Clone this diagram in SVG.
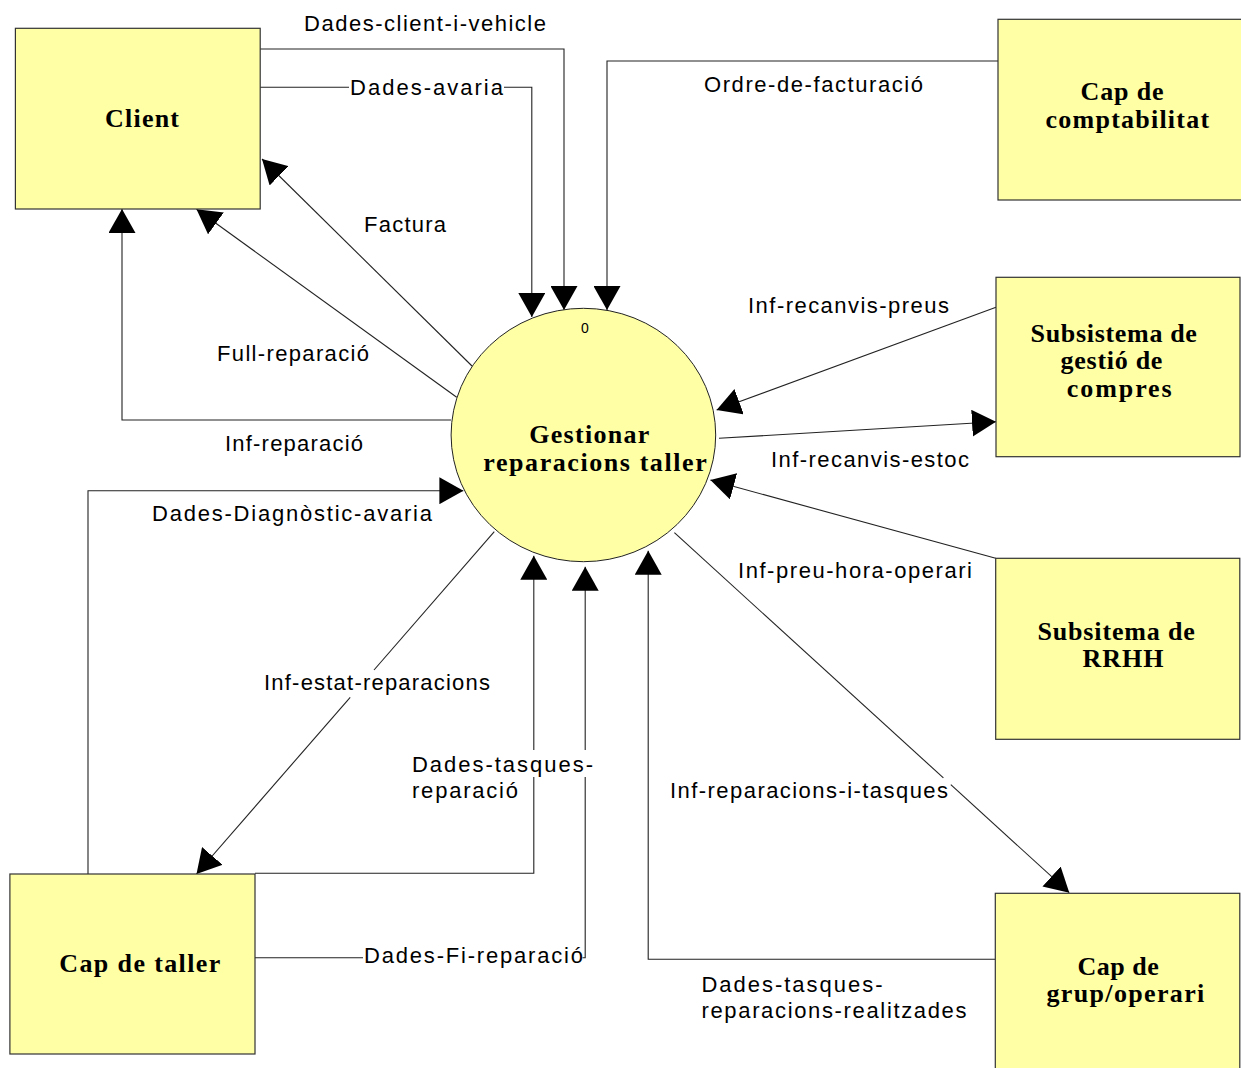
<svg xmlns="http://www.w3.org/2000/svg" width="1241" height="1068" viewBox="0 0 1241 1068">
<style>
.box{fill:#ffffa6;stroke:#333;stroke-width:1.2}
.proc{fill:#ffffa6;stroke:#222;stroke-width:1}
.nt{font-family:"Liberation Serif","Times New Roman",serif;font-weight:bold;font-size:26px;fill:#000}
.lb{font-family:"Liberation Sans",Arial,sans-serif;font-size:22px;fill:#000}
.num{font-family:"Liberation Sans",Arial,sans-serif;font-size:14px;fill:#000}
.c{fill:none;stroke:#222;stroke-width:1.1}
.ca{fill:none;stroke:#222;stroke-width:1.1;marker-end:url(#arr)}
</style>
<defs>
<marker id="arr" markerUnits="userSpaceOnUse" markerWidth="24" markerHeight="27" refX="24" refY="13.5" orient="auto" viewBox="0 0 24 27">
<path d="M0,0 L24,13.5 L0,27 z" fill="#000"/>
</marker>
</defs>
<rect width="1241" height="1068" fill="#fff"/>

<g id="connectors">
<path class="ca" d="M260,49 H564 V310"/>
<path class="c" d="M260,87.3 H349"/>
<path class="ca" d="M504,87.3 H531.8 V317"/>
<path class="ca" d="M998,61 H607 V310"/>
<path class="ca" d="M472,366 L262,159"/>
<path class="ca" d="M456.7,397.3 L196.5,209.3"/>
<path class="ca" d="M451,420 H122 V209"/>
<path class="ca" d="M996,307.3 L716.6,410"/>
<path class="ca" d="M719,438.3 L996,421.7"/>
<path class="ca" d="M995.7,558.3 L710.4,480"/>
<path class="ca" d="M88,874 V490.7 H463.4"/>
<path class="c" d="M494.3,531.7 L374,670"/>
<path class="ca" d="M350.2,697.3 L196.5,874"/>
<path class="c" d="M255,873.3 H533.8 V777"/>
<path class="ca" d="M533.8,750 V555.7"/>
<path class="c" d="M255,957.7 H363"/>
<path class="c" d="M582.5,957.7 H585.2 V777"/>
<path class="ca" d="M585.2,750 V566.7"/>
<path class="c" d="M674.4,532.7 L943.4,777.9"/>
<path class="ca" d="M950.8,784.7 L1069.3,892.7"/>
<path class="ca" d="M995.3,959.3 H648.2 V550.7"/>
</g>

<g id="connector-labels">
<text class="lb" x="304" y="30.7" textLength="242" lengthAdjust="spacing">Dades-client-i-vehicle</text>
<text class="lb" x="350" y="94.5" textLength="153" lengthAdjust="spacing">Dades-avaria</text>
<text class="lb" x="704" y="92" textLength="219" lengthAdjust="spacing">Ordre-de-facturació</text>
<text class="lb" x="364" y="231.7" textLength="82" lengthAdjust="spacing">Factura</text>
<text class="lb" x="217" y="360.7" textLength="152" lengthAdjust="spacing">Full-reparació</text>
<text class="lb" x="225" y="450.7" textLength="138" lengthAdjust="spacing">Inf-reparació</text>
<text class="lb" x="748" y="312.7" textLength="201" lengthAdjust="spacing">Inf-recanvis-preus</text>
<text class="lb" x="771" y="466.7" textLength="198" lengthAdjust="spacing">Inf-recanvis-estoc</text>
<text class="lb" x="152" y="520.7" textLength="280" lengthAdjust="spacing">Dades-Diagnòstic-avaria</text>
<text class="lb" x="738" y="578.3" textLength="234" lengthAdjust="spacing">Inf-preu-hora-operari</text>
<text class="lb" x="264" y="690" textLength="226" lengthAdjust="spacing">Inf-estat-reparacions</text>
<text class="lb" x="412" y="771.7" textLength="181" lengthAdjust="spacing">Dades-tasques-</text>
<text class="lb" x="412" y="798.3" textLength="106" lengthAdjust="spacing">reparació</text>
<text class="lb" x="670" y="798.3" textLength="278" lengthAdjust="spacing">Inf-reparacions-i-tasques</text>
<text class="lb" x="364" y="962.7" textLength="219" lengthAdjust="spacing">Dades-Fi-reparació</text>
<text class="lb" x="701.5" y="991.7" textLength="181" lengthAdjust="spacing">Dades-tasques-</text>
<text class="lb" x="701.5" y="1018.3" textLength="265" lengthAdjust="spacing">reparacions-realitzades</text>
</g>

<g id="node-client">
<rect class="box" x="15.4" y="28.3" width="244.8" height="180.7"/>
<text class="nt" x="105" y="127" textLength="74" lengthAdjust="spacing">Client</text>
</g>

<g id="node-cap-comptabilitat">
<rect class="box" x="998" y="19.3" width="250" height="180.7"/>
<text class="nt" x="1080.5" y="100" textLength="83" lengthAdjust="spacing">Cap de</text>
<text class="nt" x="1045.6" y="127.7" textLength="163.5" lengthAdjust="spacing">comptabilitat</text>
</g>

<g id="node-proces">
<ellipse class="proc" cx="583.4" cy="435" rx="132.3" ry="126.7"/>
<text class="num" x="585" y="333" text-anchor="middle">0</text>
<text class="nt" x="529.3" y="442.7" textLength="120" lengthAdjust="spacing">Gestionar</text>
<text class="nt" x="483.3" y="470.7" textLength="223.4" lengthAdjust="spacing">reparacions taller</text>
</g>

<g id="node-compres">
<rect class="box" x="996" y="277.3" width="244" height="179.4"/>
<text class="nt" x="1030.6" y="341.7" textLength="166.3" lengthAdjust="spacing">Subsistema de</text>
<text class="nt" x="1060.6" y="368.7" textLength="101.8" lengthAdjust="spacing">gestió de</text>
<text class="nt" x="1066.8" y="396.7" textLength="104.9" lengthAdjust="spacing">compres</text>
</g>

<g id="node-rrhh">
<rect class="box" x="995.7" y="558.3" width="244.1" height="181"/>
<text class="nt" x="1037.4" y="640" textLength="157.5" lengthAdjust="spacing">Subsitema de</text>
<text class="nt" x="1082.4" y="667.3" textLength="81" lengthAdjust="spacing">RRHH</text>
</g>

<g id="node-cap-taller">
<rect class="box" x="9.9" y="874" width="245.1" height="180"/>
<text class="nt" x="59.3" y="971.7" textLength="161" lengthAdjust="spacing">Cap de taller</text>
</g>

<g id="node-cap-grup">
<rect class="box" x="995.3" y="893.3" width="244.5" height="190"/>
<text class="nt" x="1077.5" y="975" textLength="81.4" lengthAdjust="spacing">Cap de</text>
<text class="nt" x="1046.5" y="1001.7" textLength="157.8" lengthAdjust="spacing">grup/operari</text>
</g>
</svg>
